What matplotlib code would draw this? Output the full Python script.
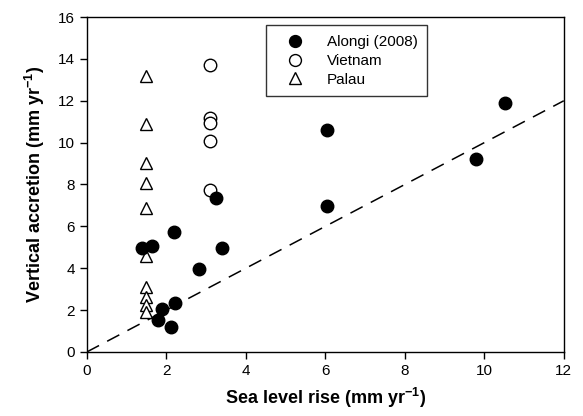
import matplotlib.pyplot as plt

plt.rcParams['font.family'] = ['Liberation Sans', 'DejaVu Sans']
plt.rcParams['mathtext.fontset'] = 'custom'
plt.rcParams['mathtext.rm'] = 'Liberation Sans'
plt.rcParams['mathtext.bf'] = 'Liberation Sans:bold'

# Alongi (2008)
alongi_x = [1.38, 1.63, 2.2, 3.25, 3.41, 2.82, 1.9, 2.21, 1.79, 2.11, 6.04, 6.05, 9.8, 10.53]
alongi_y = [4.98, 5.08, 5.75, 7.35, 4.95, 3.95, 2.05, 2.32, 1.53, 1.18, 10.6, 6.99, 9.2, 11.87]
# Vietnam
viet_x = [3.09, 3.09, 3.09, 3.09, 3.09]
viet_y = [13.7, 11.2, 10.95, 10.08, 7.74]
# Palau
palau_x = [1.5, 1.5, 1.5, 1.5, 1.5, 1.5, 1.5, 1.5, 1.5, 1.5]
palau_y = [13.2, 10.9, 9.03, 8.07, 6.88, 4.58, 3.09, 2.61, 2.24, 1.93]
# 1:1 line
line_x = [0, 12]
line_y = [0, 12]

fig = plt.figure(figsize=(5.83, 4.16), dpi=100)
ax = fig.add_axes([0.149, 0.154, 0.818, 0.805])

ax.plot(line_x, line_y, color='black', linestyle=(0, (9, 6)), linewidth=1.1, zorder=1)
ax.plot(alongi_x, alongi_y, 'o', color='black', markersize=9, linestyle='none',
        label='Alongi (2008)', zorder=3)
ax.plot(viet_x, viet_y, 'o', markerfacecolor='white', markeredgecolor='black',
        markersize=9, markeredgewidth=1.0, linestyle='none', label='Vietnam', zorder=2)
ax.plot(palau_x, palau_y, '^', markerfacecolor='white', markeredgecolor='black',
        markersize=9, markeredgewidth=1.0, linestyle='none', label='Palau', zorder=2)

ax.set_xlim(0, 12)
ax.set_ylim(0, 16)
ax.set_xticks(range(0, 13, 2))
ax.set_yticks(range(0, 17, 2))
ax.tick_params(direction='out', length=5, labelsize=11, width=1)
for s in ax.spines.values():
    s.set_linewidth(1)

ax.set_xlabel('Sea level rise (mm yr$^{\\mathbf{-1}}$)', fontsize=13, fontweight='bold', labelpad=6)
ax.set_ylabel('Vertical accretion (mm yr$^{\\mathbf{-1}}$)', fontsize=13, fontweight='bold', labelpad=8)

leg = ax.legend(loc='upper left', bbox_to_anchor=(0.376, 0.975), fontsize=11,
                frameon=True, fancybox=False, edgecolor='black', handletextpad=0.8,
                borderpad=0.65, labelspacing=0.3, markerscale=0.95, borderaxespad=0,
                handlelength=2.5)
leg.get_frame().set_linewidth(1)

fig.savefig('out.png', dpi=100)
